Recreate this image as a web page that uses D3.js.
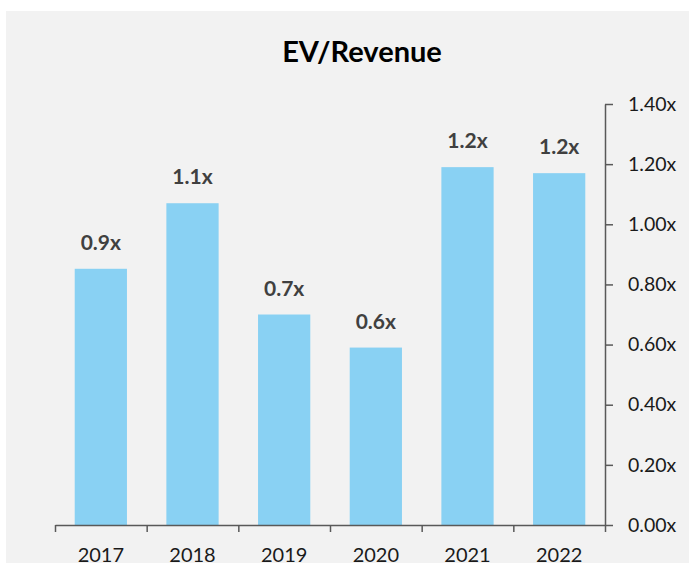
<!DOCTYPE html>
<html>
<head>
<meta charset="utf-8">
<script src="https://cdn.jsdelivr.net/npm/d3@7"></script>
<style>
  html, body { margin: 0; padding: 0; background: #ffffff; }
  svg { display: block; }
</style>
</head>
<body>
<div id="chart"></div>
<script>
const years = ["2017", "2018", "2019", "2020", "2021", "2022"];
const evRevenue = [0.852, 1.07, 0.70, 0.59, 1.19, 1.17];
const yTicks = [0, 0.2, 0.4, 0.6, 0.8, 1.0, 1.2, 1.4];
const title = "EV/Revenue";

(function () {
const W = 689, H = 563;
const svg = d3.select("#chart").append("svg").attr("width", W).attr("height", H);

svg.append("rect").attr("x", 6).attr("y", 11).attr("width", W - 6).attr("height", H - 11).attr("fill", "#f2f2f2");

const mLeft = 55, mRight = 605, mTop = 104, mBottom = 525;
const x = d3.scaleBand().domain(years).range([mLeft, mRight]).paddingInner(0.43).paddingOuter(0.215);
const y = d3.scaleLinear().domain([0, 1.4]).range([mBottom, mTop]);
const font = "Lato, 'Open Sans', sans-serif";
const axisColor = "#595959";

// title
svg.append("text").attr("x", 362).attr("y", 62).attr("text-anchor", "middle")
  .attr("font-family", font).attr("font-weight", "bold").attr("font-size", 29)
  .attr("fill", "#000").text(title);

// bars
svg.append("g").selectAll("rect").data(years).join("rect")
  .attr("x", d => x(d)).attr("width", x.bandwidth())
  .attr("y", (d, i) => y(evRevenue[i])).attr("height", (d, i) => y(0) - y(evRevenue[i]))
  .attr("fill", "#89d1f3");

// data labels
const fmt = d3.format(".1f");
svg.append("g").selectAll("text").data(years).join("text")
  .attr("x", d => x(d) + x.bandwidth() / 2)
  .attr("y", (d, i) => y(evRevenue[i]) - 19)
  .attr("text-anchor", "middle").attr("font-family", font).attr("font-weight", "bold")
  .attr("font-size", 21).attr("fill", "#404040")
  .text((d, i) => fmt(evRevenue[i]) + "x");

// x axis boundary ticks
const xb = d3.scaleLinear().domain([0, years.length]).range([mLeft, mRight]);
const gx = svg.append("g").attr("transform", `translate(0,${mBottom})`)
  .call(d3.axisBottom(xb).tickValues(d3.range(years.length + 1)).tickFormat("").tickSize(7).tickSizeOuter(0));
gx.select(".domain").attr("stroke", axisColor).attr("stroke-width", 1.5);
gx.selectAll(".tick line").attr("stroke", axisColor).attr("stroke-width", 1.5);

// x labels
const gxl = svg.append("g").attr("transform", `translate(0,${mBottom})`)
  .call(d3.axisBottom(x).tickSize(0).tickPadding(0));
gxl.select(".domain").remove();
gxl.selectAll(".tick text").attr("font-family", font).attr("font-size", 20).attr("fill", "#1a1a1a")
  .attr("dy", null).attr("y", 37);

// y axis
const gy = svg.append("g").attr("transform", `translate(${mRight},0)`)
  .call(d3.axisRight(y).tickValues(yTicks).tickFormat(d => d.toFixed(2) + "x").tickSize(8).tickSizeOuter(0).tickPadding(15));
gy.select(".domain").attr("stroke", axisColor).attr("stroke-width", 1.5);
gy.selectAll(".tick line").attr("stroke", axisColor).attr("stroke-width", 1.5);
gy.selectAll(".tick text").attr("font-family", font).attr("font-size", 19.5).attr("fill", "#1a1a1a");
})();
</script>
</body>
</html>
